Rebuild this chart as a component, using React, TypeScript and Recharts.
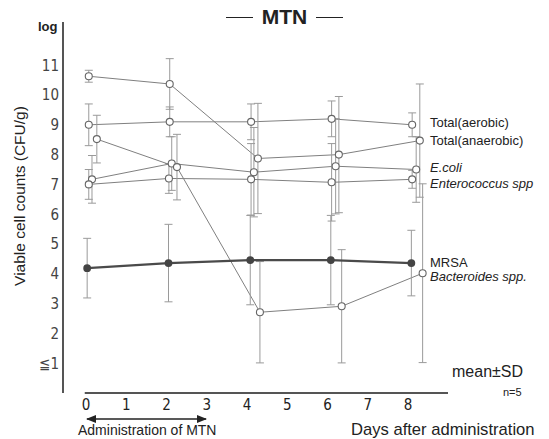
import React from 'react';
import { LineChart, Line, XAxis, YAxis, ErrorBar, ReferenceLine } from 'recharts';

// days (slightly shifted per series, as in the figure) / log CFU per g / SD
const aerobicX = [0.07, 2.08, 4.1, 6.1, 8.1];
const aerobicY = [9.0, 9.1, 9.1, 9.2, 9.0];
const aerobicSD = [0.7, 0.5, 0.6, 0.6, 0.4];

const anaerobicX = [0.07, 2.08, 4.27, 6.28, 8.29];
const anaerobicY = [10.63, 10.37, 7.87, 8.0, 8.47];
const anaerobicSD = [0.2, 0.85, 1.85, 1.95, 1.9];

const ecoliX = [0.15, 2.13, 4.17, 6.2, 8.2];
const ecoliY = [7.17, 7.7, 7.41, 7.61, 7.5];
const ecoliSD = [0.8, 0.9, 1.5, 1.6, 1.1];

const enteroX = [0.07, 2.06, 4.1, 6.1, 8.1];
const enteroY = [7.0, 7.2, 7.17, 7.07, 7.17];
const enteroSD = [0.5, 0.5, 1.2, 1.3, 0.3];

const mrsaX = [0.03, 2.05, 4.08, 6.08, 8.08];
const mrsaY = [4.19, 4.36, 4.46, 4.46, 4.36];
const mrsaSD = [1.0, 1.3, 1.5, 1.5, 1.1];

const bactX = [0.27, 2.26, 4.32, 6.35, 8.36];
const bactY = [8.52, 7.58, 2.71, 2.91, 4.02];
const bactSD = [0.8, 1.1, 1.7, 1.9, 3.0];

const X_TICKS = [0, 1, 2, 3, 4, 5, 6, 7, 8];
const Y_TICKS = [1, 2, 3, 4, 5, 6, 7, 8, 9, 10, 11];

const mk = (xs: number[], ys: number[], sds: number[]) =>
  xs.map((x, i) => ({ x, y: ys[i], sd: sds[i] }));

const SANS = "'Liberation Sans', Arial, sans-serif";
const NARROW = "'Liberation Sans Narrow', 'DejaVu Sans Condensed', 'Liberation Sans', sans-serif";
const LABEL_X = 430;

const endLabel = (text: string, dy: number, italic = false) => (p: any) =>
  p.index === 4 ? (
    <text
      key={text}
      x={LABEL_X}
      y={p.y + dy}
      dominantBaseline="central"
      fontSize={13}
      fontFamily={SANS}
      fontStyle={italic ? 'italic' : 'normal'}
      fill="#222"
    >
      {text}
    </text>
  ) : (
    <g key={`${text}-${p.index}`} />
  );

const openDot = { r: 3.5, fill: '#fff', stroke: '#666', strokeWidth: 1.1 };

export default function App() {
  return (
    <div style={{ position: 'absolute', left: 0, top: 0, width: 549, height: 439, background: '#fff', fontFamily: SANS, color: '#222' }}>
      <LineChart width={549} height={439} margin={{ top: 22, right: 101, bottom: 0, left: 0 }}>
        <XAxis
          type="number"
          dataKey="x"
          domain={[-0.57, 8.99]}
          ticks={X_TICKS}
          axisLine={false}
          tickLine={false}
          tickSize={0}
          tickMargin={6}
          height={46}
          allowDataOverflow
          tick={{ fontSize: 15, fill: '#222', fontFamily: NARROW }}
        />
        <YAxis
          type="number"
          domain={[0, 12.45]}
          ticks={Y_TICKS}
          width={63}
          axisLine={{ stroke: '#555', strokeWidth: 2 }}
          tickLine={false}
          tickSize={0}
          tickMargin={4}
          allowDataOverflow
          tickFormatter={(v: number) => (v === 1 ? '≦1' : String(v))}
          tick={{ fontSize: 15, fill: '#444', fontFamily: NARROW }}
        />
        <ReferenceLine segment={[{ x: -0.03, y: 0 }, { x: 8.99, y: 0 }]} stroke="#555" strokeWidth={2} />

        <Line data={mk(aerobicX, aerobicY, aerobicSD)} dataKey="y" stroke="#808080" strokeWidth={1} dot={openDot} isAnimationActive={false} label={endLabel('Total(aerobic)', -2)}>
          <ErrorBar dataKey="sd" width={4} stroke="#9a9a9a" strokeWidth={1} />
        </Line>
        <Line data={mk(anaerobicX, anaerobicY, anaerobicSD)} dataKey="y" stroke="#808080" strokeWidth={1} dot={openDot} isAnimationActive={false} label={endLabel('Total(anaerobic)', 0)}>
          <ErrorBar dataKey="sd" width={4} stroke="#9a9a9a" strokeWidth={1} />
        </Line>
        <Line data={mk(ecoliX, ecoliY, ecoliSD)} dataKey="y" stroke="#808080" strokeWidth={1} dot={openDot} isAnimationActive={false} label={endLabel('E.coli', -2, true)}>
          <ErrorBar dataKey="sd" width={4} stroke="#9a9a9a" strokeWidth={1} />
        </Line>
        <Line data={mk(enteroX, enteroY, enteroSD)} dataKey="y" stroke="#808080" strokeWidth={1} dot={openDot} isAnimationActive={false} label={endLabel('Enterococcus spp', 4, true)}>
          <ErrorBar dataKey="sd" width={4} stroke="#9a9a9a" strokeWidth={1} />
        </Line>
        <Line data={mk(bactX, bactY, bactSD)} dataKey="y" stroke="#808080" strokeWidth={1} dot={openDot} isAnimationActive={false} label={endLabel('Bacteroides spp.', 3, true)}>
          <ErrorBar dataKey="sd" width={4} stroke="#9a9a9a" strokeWidth={1} />
        </Line>
        <Line data={mk(mrsaX, mrsaY, mrsaSD)} dataKey="y" stroke="#4a4a4a" strokeWidth={2.2} dot={{ r: 2.8, fill: '#444', stroke: '#444' }} isAnimationActive={false} label={endLabel('MRSA', -1)}>
          <ErrorBar dataKey="sd" width={4} stroke="#9a9a9a" strokeWidth={1} />
        </Line>
      </LineChart>

      {/* title */}
      <div style={{ position: 'absolute', left: 226, top: 5, width: 117, height: 24, display: 'flex', alignItems: 'center', justifyContent: 'space-between' }}>
        <div style={{ width: 27, height: 0, borderTop: '1.5px solid #222' }} />
        <span style={{ fontSize: 21, fontWeight: 'bold', lineHeight: '24px' }}>MTN</span>
        <div style={{ width: 27, height: 0, borderTop: '1.5px solid #222' }} />
      </div>

      <div style={{ position: 'absolute', left: 38, top: 19, fontSize: 13, fontWeight: 600, lineHeight: '16px' }}>log</div>

      <div style={{ position: 'absolute', left: 20, top: 196, transform: 'translate(-50%, -50%) rotate(-90deg)', whiteSpace: 'nowrap', fontSize: 15.5, lineHeight: '18px' }}>
        Viable cell counts (CFU/g)
      </div>

      <div style={{ position: 'absolute', left: 452, top: 362, fontSize: 16, lineHeight: '20px' }}>mean±SD</div>
      <div style={{ position: 'absolute', left: 503, top: 385, fontSize: 11, lineHeight: '14px' }}>n=5</div>

      <svg style={{ position: 'absolute', left: 0, top: 0 }} width={549} height={439}>
        <defs>
          <marker id="ah" markerWidth="10" markerHeight="8" refX="9" refY="4" orient="auto-start-reverse" markerUnits="userSpaceOnUse">
            <path d="M0,0 L10,4 L0,8 Z" fill="#222" />
          </marker>
        </defs>
        <line x1={87} y1={419} x2={206} y2={419} stroke="#222" strokeWidth={1.5} markerStart="url(#ah)" markerEnd="url(#ah)" />
      </svg>

      <div style={{ position: 'absolute', left: 78, top: 422, fontSize: 14, lineHeight: '16px', whiteSpace: 'nowrap' }}>Administration of MTN</div>
      <div style={{ position: 'absolute', left: 351, top: 421, fontSize: 16.6, lineHeight: '18px', whiteSpace: 'nowrap' }}>Days after administration</div>
    </div>
  );
}
